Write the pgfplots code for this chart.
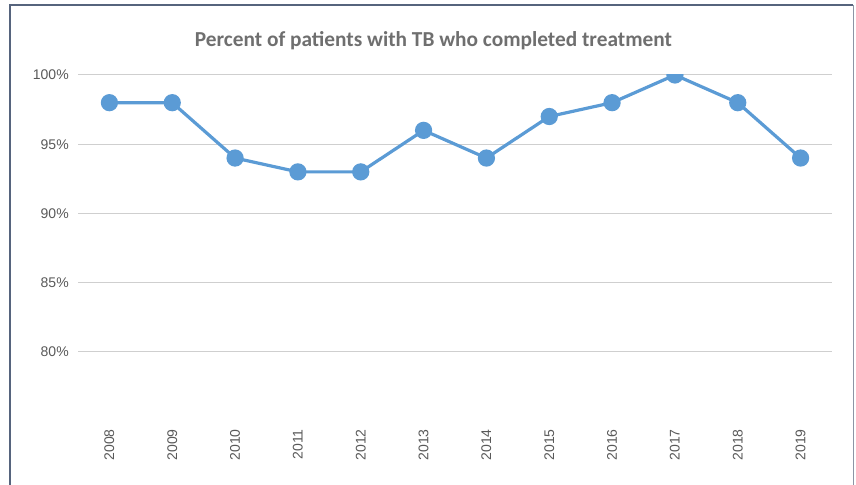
\documentclass[border=0pt]{standalone}
\usepackage{pgfplots}
\pgfplotsset{compat=1.18}
\usepackage{fontspec}
\setmainfont{Liberation Sans}
\newfontfamily\titlefont{Carlito}
\definecolor{lineblue}{HTML}{5B9BD5}
\definecolor{gridgray}{HTML}{CFCFCF}
\definecolor{ticktext}{HTML}{595959}
\definecolor{titletext}{HTML}{6F6F6F}
\definecolor{frameblue}{HTML}{56647D}
\definecolor{frameright}{HTML}{8C95A5}
\begin{document}
\begin{tikzpicture}
\path[use as bounding box] (0pt,0pt) rectangle (642pt,-363.75pt);
\draw[frameblue, line width=1.5pt] (7.125pt,-363.75pt) -- (7.125pt,-4.125pt) -- (640.1pt,-4.125pt);
\draw[frameright, line width=1.2pt] (640.1pt,-4.125pt) -- (640.1pt,-363.75pt);
\node[font=\titlefont\bfseries\fontsize{16}{18}\selectfont, text=titletext, inner sep=0pt] at (325.1pt,-30.75pt) {Percent of patients with TB who completed treatment};
\begin{axis}[
  at={(58.5pt,-56.25pt)}, anchor=north west,
  scale only axis, width=565.5pt, height=259.5pt,
  xmin=-0.5, xmax=11.5, ymin=75, ymax=100,
  axis line style={draw=none}, tick style={draw=none},
  xtick={0,1,2,3,4,5,6,7,8,9,10,11},
  xticklabels={2008,2009,2010,2011,2012,2013,2014,2015,2016,2017,2018,2019},
  ytick={80,85,90,95,100},
  yticklabel={\pgfmathprintnumber{\tick}\%},
  /pgf/number format/assume math mode=true,
  ymajorgrids, grid style={gridgray, line width=0.75pt},
  ticklabel style={font=\fontsize{10.5}{12}\selectfont, text=ticktext},
  yticklabel style={anchor=east, inner sep=0pt, xshift=-6.75pt},
  xticklabel style={rotate=90, anchor=east, inner sep=0pt},
  xticklabel shift=6pt,
  clip marker paths=true,
]
\addplot[lineblue, line width=2.4pt, mark=*, mark size=5.25pt, mark options={fill=lineblue, draw=none}]
  coordinates {(0,98) (1,98) (2,94) (3,93) (4,93) (5,96) (6,94) (7,97) (8,98) (9,100) (10,98) (11,94)};
\end{axis}
\end{tikzpicture}
\end{document}
